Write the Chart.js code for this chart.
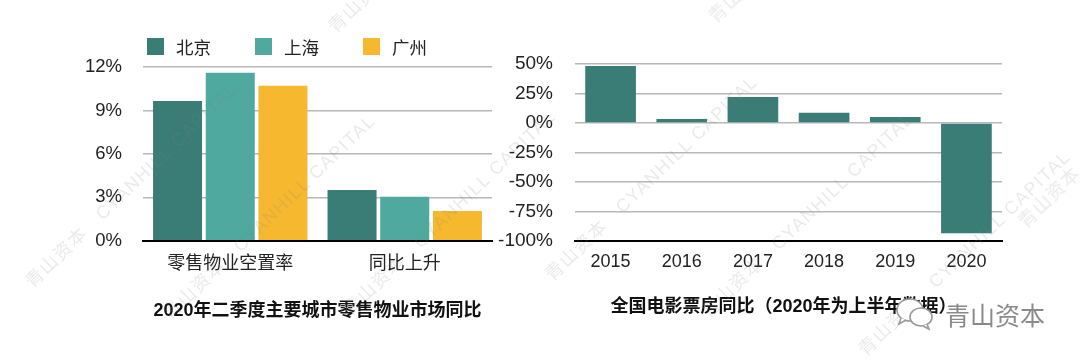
<!DOCTYPE html>
<html>
<head>
<meta charset="utf-8">
<script src="https://cdn.jsdelivr.net/npm/chart.js@4"></script>
<style>
  html, body { margin: 0; padding: 0; background: #fff; }
  body { width: 1080px; height: 361px; position: relative; overflow: hidden; font-family: "Liberation Sans", "Noto Sans CJK SC", sans-serif; }
  canvas { position: absolute; top: 0; }
  #legend { position: absolute; left: 147px; top: 38px; display: flex; }
  #legend div { width: 108px; display: flex; align-items: center; font-size: 17.5px; color: #222; height: 17px; }
  #legend span { width: 17px; height: 17px; margin-right: 12px; }
  .mark { position: absolute; font-size: 18px; letter-spacing: 1.5px; white-space: pre; color: rgba(130,130,130,0.17); transform-origin: 0 50%; transform: rotate(-44deg); pointer-events: none; }
  #logo { position: absolute; left: 894px; top: 296px; height: 36px; display: flex; align-items: center; color: #8a8a8a; font-size: 25px; text-shadow: 0 0 3px #fff, 0 0 3px #fff, 0 0 5px #fff; }
  #logo svg { margin-right: 9px; }
</style>
</head>
<body>
<canvas id="retail-chart" width="634" height="361" style="left:0;width:634px;height:361px"></canvas>
<canvas id="boxoffice-chart" width="592" height="361" style="left:488px;width:592px;height:361px"></canvas>
<div id="legend"></div>
<div id="logo">
  <svg width="42" height="36" viewBox="0 0 42 36" fill="#fff" stroke="#9a9a9a" stroke-width="1.6">
    <ellipse cx="16" cy="14" rx="13" ry="11"/>
    <path d="M7 22 L5 28 L12 24"/>
    <ellipse cx="27" cy="21" rx="11" ry="9"/>
    <path d="M33 28 L35 33 L29 30"/>
  </svg>
  <span>青山资本</span>
</div>
<script>
const retailCategories = ['零售物业空置率', '同比上升'];
const beijing = [9.65, 3.5];
const shanghai = [11.6, 3.04];
const guangzhou = [10.7, 2.05];

const years = ['2015', '2016', '2017', '2018', '2019', '2020'];
const boxOffice = [48.2, 3.4, 22, 8.7, 5, -93.4];

const retailTitle = '2020年二季度主要城市零售物业市场同比';
const boxOfficeTitle = '全国电影票房同比（2020年为上半年数据）';

const DARK = '#3A7D76';
const TEAL = '#4FA99E';
const YELLOW = '#F6B82F';
const GRID = '#B8B8B8';
const FONT = '"Liberation Sans", "Noto Sans CJK SC", sans-serif';

const retailSeries = [
    { label: '北京', data: beijing, backgroundColor: DARK },
    { label: '上海', data: shanghai, backgroundColor: TEAL },
    { label: '广州', data: guangzhou, backgroundColor: YELLOW }
];

// legend sits above the plot, spacing is not what the chart.js one gives
const legendBox = document.getElementById('legend');
retailSeries.forEach(function(s) {
    const item = document.createElement('div');
    item.innerHTML = '<span style="background:' + s.backgroundColor + '"></span>' + s.label;
    legendBox.appendChild(item);
});

function chartOptions(cfg) {
    return {
        responsive: false,
        animation: false,
        layout: { padding: { top: cfg.top, right: cfg.right, left: 0, bottom: 0 } },
        plugins: {
            legend: { display: false },
            tooltip: { enabled: false },
            title: {
                display: true,
                text: cfg.title,
                position: 'bottom',
                // centre the title on the plot and not on the canvas
                fullSize: false,
                color: '#111',
                font: { family: FONT, size: 18, weight: 'bold', lineHeight: 1.2 },
                padding: { top: 0, bottom: cfg.titleBottom }
            }
        },
        scales: {
            x: {
                grid: { display: false },
                border: { color: '#000', width: 2 },
                ticks: { color: '#222', font: { family: FONT, size: 18 }, padding: cfg.xPad, maxRotation: 0 },
                afterFit: function(axis) { axis.height = cfg.axisH; }
            },
            y: {
                min: cfg.min,
                max: cfg.max,
                grid: { color: GRID, lineWidth: 1.5, drawTicks: false },
                border: { display: false },
                ticks: {
                    stepSize: cfg.step,
                    color: '#222',
                    padding: cfg.yPad,
                    font: { family: FONT, size: cfg.tickSize },
                    callback: function(v) { return v + '%'; }
                },
                afterFit: function(axis) { axis.width = cfg.axisW; }
            }
        }
    };
}

new Chart(document.getElementById('retail-chart').getContext('2d'), {
    type: 'bar',
    data: {
        labels: retailCategories,
        datasets: retailSeries.map(function(s) {
            return Object.assign({}, s, { categoryPercentage: 0.906, barPercentage: 0.93 });
        })
    },
    options: chartOptions({
        top: 67, right: 142, title: retailTitle, titleBottom: 39,
        xPad: 5, axisH: 59.7, axisW: 143, yPad: 21, tickSize: 18.5, min: 0, max: 12, step: 3
    })
});

new Chart(document.getElementById('boxoffice-chart').getContext('2d'), {
    type: 'bar',
    data: {
        labels: years,
        datasets: [{ label: '全国电影票房同比', data: boxOffice, backgroundColor: DARK, categoryPercentage: 0.8, barPercentage: 0.89 }]
    },
    options: chartOptions({
        top: 64, right: 78, title: boxOfficeTitle + '  ', titleBottom: 43,
        xPad: 2, axisH: 55.4, axisW: 87, yPad: 22, tickSize: 19, min: -100, max: 50, step: 25
    })
});

// faint diagonal watermark across the whole picture
[[27, 270], [165, 302], [345, 298], [547, 263], [703, 300], [860, 338], [330, 15], [710, 5], [1020, 210]].forEach(function(p) {
    const m = document.createElement('div');
    m.className = 'mark';
    m.style.left = p[0] + 'px';
    m.style.top = p[1] + 'px';
    m.textContent = '青山资本   CYANHILL CAPITAL';
    document.body.insertBefore(m, document.getElementById('logo'));
});
</script>
</body>
</html>
